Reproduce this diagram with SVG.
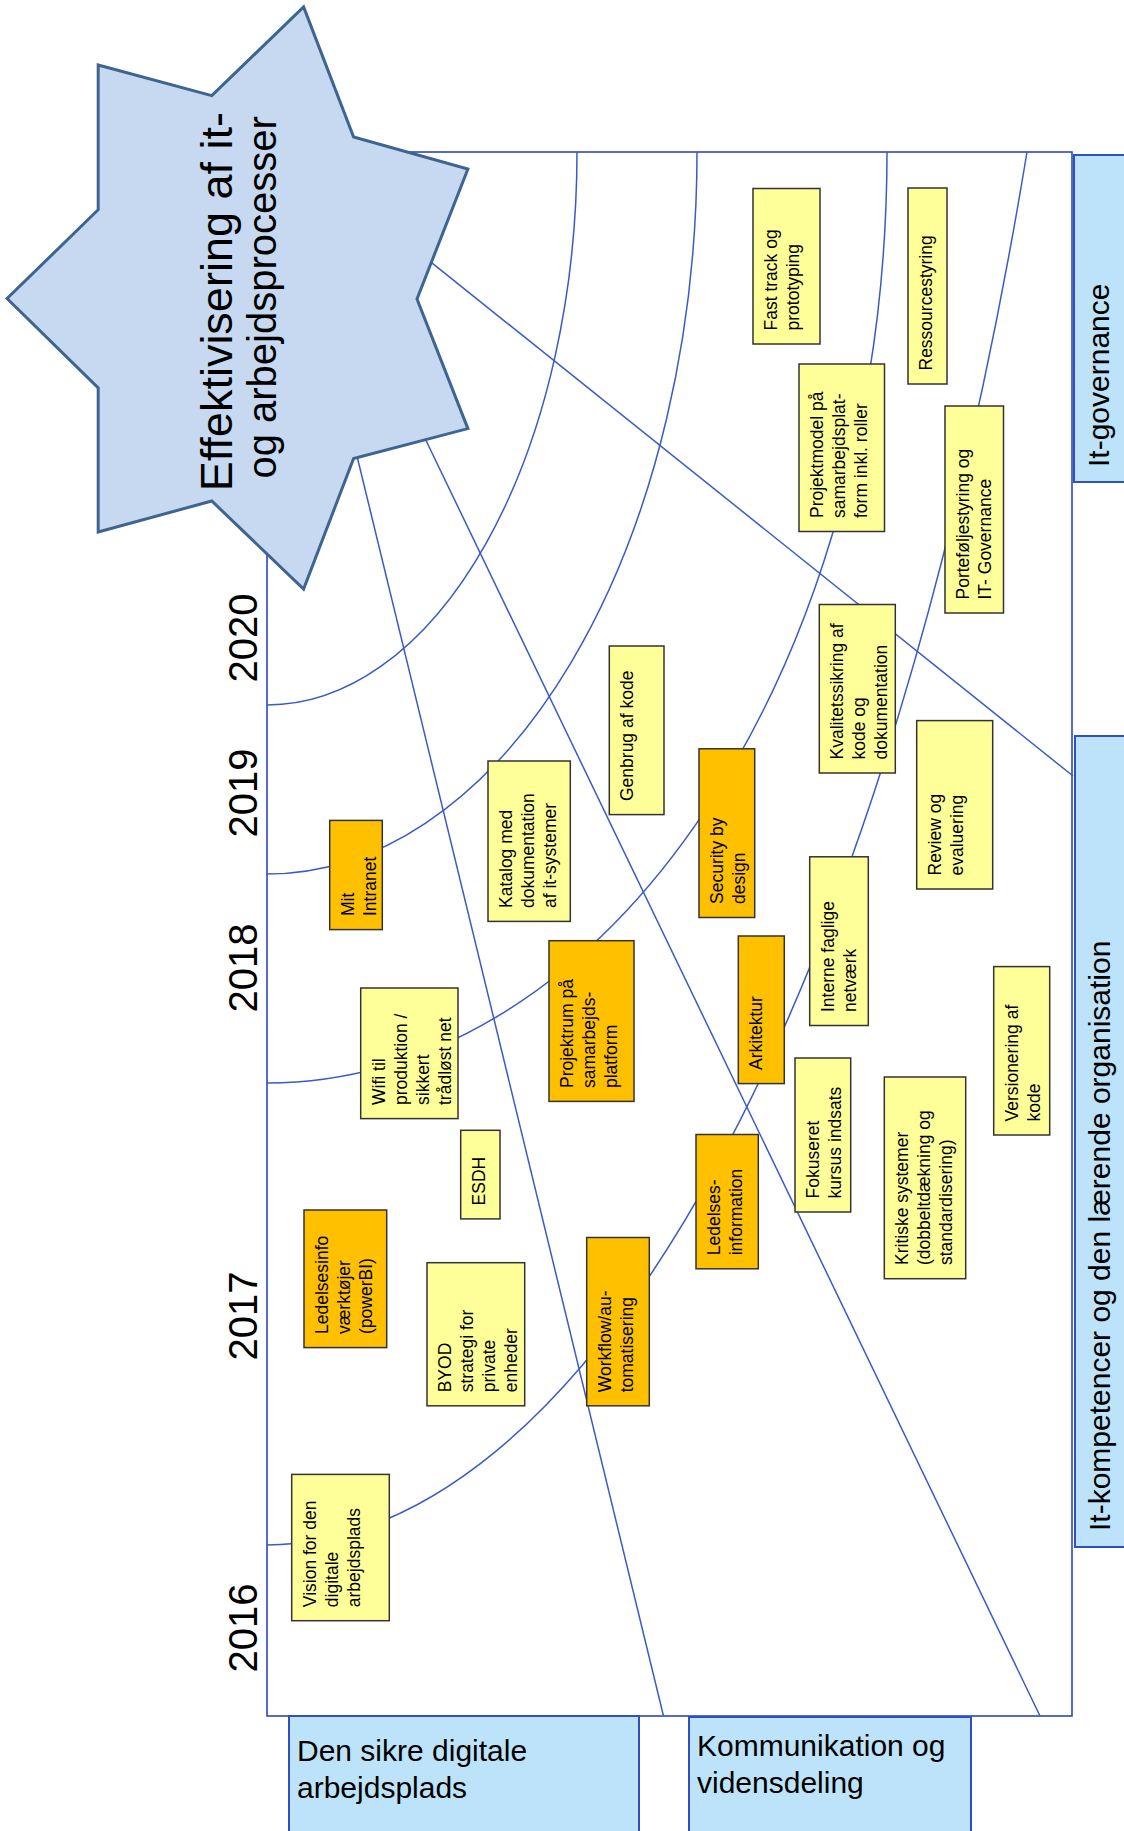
<svg xmlns="http://www.w3.org/2000/svg" width="1124" height="1831" viewBox="0 0 1124 1831">
<style>
.frame{fill:#fff;stroke:#2B47BF;stroke-width:1.6}
.conn{fill:none;stroke:#3B5BC4;stroke-width:1.5}
.node rect{stroke:#333;stroke-width:1.5}
.y{fill:#FFFF99}
.o{fill:#FFC000}
text{font-family:"Liberation Sans",Arial,sans-serif;fill:#000}
.nt{font-size:17.5px}
.cat rect{fill:#BDE3FB;stroke:#3050C0;stroke-width:2}
.ct{font-size:30px}
.yr{font-size:40px}
.star{fill:#C6D9F0;stroke:#3E6590;stroke-width:3;stroke-linejoin:miter}
</style>
<rect class="frame" x="267" y="152" width="805" height="1564"/>
<g id="connectors">
<path class="conn" d="M267 705 A310 553 0 0 0 577 152"/>
<path class="conn" d="M267 874 A430 722 0 0 0 697 152"/>
<path class="conn" d="M267 1083 A620 931 0 0 0 887 152"/>
<path class="conn" d="M267 1545 A845 2445 0 0 0 1027 152"/>
<path class="conn" d="M425 257.4 L1073 776"/>
<path class="conn" d="M420 428 L1040 1716"/>
<path class="conn" d="M356 452 L663.5 1716"/>
</g>
<g id="star">
<polygon class="star" points="303.6,6.9 353.6,137 467.9,169 417,299 467.9,428.6 353.6,458.5 303.6,589 211.8,501 98.2,532 98.2,388 7.1,298.5 98.2,209.7 98.2,65 211.8,95.7"/>
<text transform="translate(231.5,301.7) rotate(-90)" text-anchor="middle" font-size="45">Effektivisering af it-</text>
<text transform="translate(276,297.4) rotate(-90)" text-anchor="middle" font-size="40">og arbejdsprocesser</text>
</g>
<g id="years" class="yr" text-anchor="middle">
<text class="yr" transform="translate(257,638) rotate(-90)">2020</text>
<text class="yr" transform="translate(257,793) rotate(-90)">2019</text>
<text class="yr" transform="translate(257,968) rotate(-90)">2018</text>
<text class="yr" transform="translate(257,1316) rotate(-90)">2017</text>
<text class="yr" transform="translate(257,1628) rotate(-90)">2016</text>
</g>
<g id="n-fasttrack" class="node"><rect class="y" x="753" y="188.5" width="67" height="155.5"/><text class="nt" transform="translate(777,330.5) rotate(-90)"><tspan x="0" y="0">Fast track og</tspan><tspan x="0" dy="22">prototyping</tspan></text></g>
<g id="n-ressource" class="node"><rect class="y" x="908" y="188" width="39" height="196"/><text class="nt" transform="translate(932,370.5) rotate(-90)"><tspan x="0" y="0">Ressourcestyring</tspan></text></g>
<g id="n-projektmodel" class="node"><rect class="y" x="799" y="364" width="85.5" height="167.5"/><text class="nt" transform="translate(823,518) rotate(-90)"><tspan x="0" y="0">Projektmodel på</tspan><tspan x="0" dy="22">samarbejdsplat-</tspan><tspan x="0" dy="22">form inkl. roller</tspan></text></g>
<g id="n-portefolje" class="node"><rect class="y" x="945" y="406" width="58.5" height="207"/><text class="nt" transform="translate(969,599.5) rotate(-90)"><tspan x="0" y="0">Porteføljestyring og</tspan><tspan x="0" dy="22">IT- Governance</tspan></text></g>
<g id="n-kvalitet" class="node"><rect class="y" x="819.3" y="604.5" width="76" height="168.5"/><text class="nt" transform="translate(843.3,759.5) rotate(-90)"><tspan x="0" y="0">Kvalitetssikring af</tspan><tspan x="0" dy="22">kode og</tspan><tspan x="0" dy="22">dokumentation</tspan></text></g>
<g id="n-review" class="node"><rect class="y" x="916.7" y="720.6" width="76" height="168.4"/><text class="nt" transform="translate(940.7,875.5) rotate(-90)"><tspan x="0" y="0">Review og</tspan><tspan x="0" dy="22">evaluering</tspan></text></g>
<g id="n-security" class="node"><rect class="o" x="699" y="748.8" width="55.7" height="168.7"/><text class="nt" transform="translate(723,904) rotate(-90)"><tspan x="0" y="0">Security by</tspan><tspan x="0" dy="22">design</tspan></text></g>
<g id="n-interne" class="node"><rect class="y" x="809.7" y="856.8" width="58.6" height="168.7"/><text class="nt" transform="translate(833.7,1012) rotate(-90)"><tspan x="0" y="0">Interne faglige</tspan><tspan x="0" dy="22">netværk</tspan></text></g>
<g id="n-arkitektur" class="node"><rect class="o" x="738.3" y="936" width="46" height="147.6"/><text class="nt" transform="translate(762.3,1070) rotate(-90)"><tspan x="0" y="0">Arkitektur</tspan></text></g>
<g id="n-fokuseret" class="node"><rect class="y" x="795" y="1058" width="55.7" height="154"/><text class="nt" transform="translate(819,1198.5) rotate(-90)"><tspan x="0" y="0">Fokuseret</tspan><tspan x="0" dy="22">kursus indsats</tspan></text></g>
<g id="n-versionering" class="node"><rect class="y" x="993.7" y="966.6" width="56" height="168.4"/><text class="nt" transform="translate(1017.7,1121.5) rotate(-90)"><tspan x="0" y="0">Versionering af</tspan><tspan x="0" dy="22">kode</tspan></text></g>
<g id="n-kritiske" class="node"><rect class="y" x="884.3" y="1077" width="81.4" height="201.7"/><text class="nt" transform="translate(908.3,1265) rotate(-90)"><tspan x="0" y="0">Kritiske systemer</tspan><tspan x="0" dy="22">(dobbeltdækning og</tspan><tspan x="0" dy="22">standardisering)</tspan></text></g>
<g id="n-ledelses" class="node"><rect class="o" x="696" y="1134.5" width="62.3" height="134.3"/><text class="nt" transform="translate(720,1255.3) rotate(-90)"><tspan x="0" y="0">Ledelses-</tspan><tspan x="0" dy="22">information</tspan></text></g>
<g id="n-genbrug" class="node"><rect class="y" x="609.3" y="646" width="54.7" height="168.6"/><text class="nt" transform="translate(633.3,801) rotate(-90)"><tspan x="0" y="0">Genbrug af kode</tspan></text></g>
<g id="n-katalog" class="node"><rect class="y" x="488" y="761" width="82.3" height="160.4"/><text class="nt" transform="translate(512,908) rotate(-90)"><tspan x="0" y="0">Katalog med</tspan><tspan x="0" dy="22">dokumentation</tspan><tspan x="0" dy="22">af it-systemer</tspan></text></g>
<g id="n-intranet" class="node"><rect class="o" x="329.7" y="820.4" width="52.6" height="109.2"/><text class="nt" transform="translate(353.7,916) rotate(-90)"><tspan x="0" y="0">Mit</tspan><tspan x="0" dy="22">Intranet</tspan></text></g>
<g id="n-projektrum" class="node"><rect class="o" x="549" y="940.7" width="85" height="160.7"/><text class="nt" transform="translate(573,1088) rotate(-90)"><tspan x="0" y="0">Projektrum på</tspan><tspan x="0" dy="22">samarbejds-</tspan><tspan x="0" dy="22">platform</tspan></text></g>
<g id="n-wifi" class="node"><rect class="y" x="360.7" y="988" width="97.3" height="130.6"/><text class="nt" transform="translate(384.7,1105) rotate(-90)"><tspan x="0" y="0">Wifi til</tspan><tspan x="0" dy="22">produktion /</tspan><tspan x="0" dy="22">sikkert</tspan><tspan x="0" dy="22">trådløst net</tspan></text></g>
<g id="n-esdh" class="node"><rect class="y" x="460.7" y="1130.3" width="39.3" height="88.6"/><text class="nt" transform="translate(484.7,1205.4) rotate(-90)"><tspan x="0" y="0">ESDH</tspan></text></g>
<g id="n-ledelsesinfo" class="node"><rect class="o" x="304" y="1210" width="82.7" height="137.6"/><text class="nt" transform="translate(328,1334) rotate(-90)"><tspan x="0" y="0">Ledelsesinfo</tspan><tspan x="0" dy="22">værktøjer</tspan><tspan x="0" dy="22">(powerBI)</tspan></text></g>
<g id="n-byod" class="node"><rect class="y" x="427" y="1262.7" width="97.7" height="143.1"/><text class="nt" transform="translate(451,1392.3) rotate(-90)"><tspan x="0" y="0">BYOD</tspan><tspan x="0" dy="22">strategi for</tspan><tspan x="0" dy="22">private</tspan><tspan x="0" dy="22">enheder</tspan></text></g>
<g id="n-workflow" class="node"><rect class="o" x="586.7" y="1237.5" width="62.6" height="168.3"/><text class="nt" transform="translate(610.7,1392.3) rotate(-90)"><tspan x="0" y="0">Workflow/au-</tspan><tspan x="0" dy="22">tomatisering</tspan></text></g>
<g id="n-vision" class="node"><rect class="y" x="291.7" y="1474.4" width="97.6" height="146.3"/><text class="nt" transform="translate(315.7,1607.2) rotate(-90)"><tspan x="0" y="0">Vision for den</tspan><tspan x="0" dy="22">digitale</tspan><tspan x="0" dy="22">arbejdsplads</tspan></text></g>
<g id="c-governance" class="cat"><rect x="1074" y="155" width="80" height="327"/><text class="ct" transform="translate(1109,467) rotate(-90)">It-governance</text></g>
<g id="c-kompetencer" class="cat"><rect x="1075" y="736" width="80" height="811"/><text class="ct" transform="translate(1110,1531) rotate(-90)">It-kompetencer og den lærende organisation</text></g>
<g id="c-sikre" class="cat"><rect x="289" y="1716" width="350" height="140"/><text class="ct"><tspan x="297" y="1761">Den sikre digitale</tspan><tspan x="297" y="1798">arbejdsplads</tspan></text></g>
<g id="c-kommunikation" class="cat"><rect x="689" y="1717" width="282" height="140"/><text class="ct"><tspan x="697" y="1756">Kommunikation og</tspan><tspan x="697" y="1793">vidensdeling</tspan></text></g>
</svg>
